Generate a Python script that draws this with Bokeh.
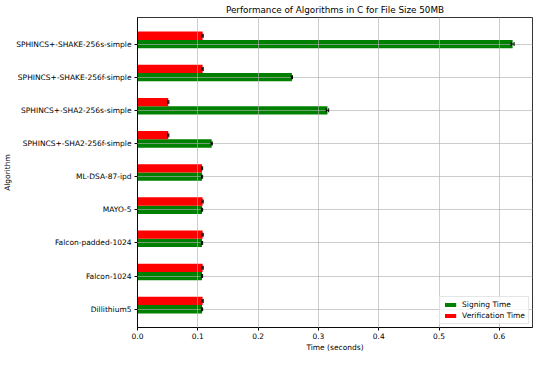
from bokeh.plotting import figure
from bokeh.models import ColumnDataSource, FixedTicker, Range1d, Legend, LegendItem
from bokeh.embed import file_html
from bokeh.resources import INLINE

algorithms = [
    "Dillithium5",
    "Falcon-1024",
    "Falcon-padded-1024",
    "MAYO-5",
    "ML-DSA-87-ipd",
    "SPHINCS+-SHA2-256f-simple",
    "SPHINCS+-SHA2-256s-simple",
    "SPHINCS+-SHAKE-256f-simple",
    "SPHINCS+-SHAKE-256s-simple",
]
signing_time = [0.107, 0.107, 0.107, 0.107, 0.107, 0.123, 0.315, 0.256, 0.622]
signing_err = [0.001, 0.001, 0.001, 0.001, 0.001, 0.001, 0.002, 0.001, 0.0025]
verification_time = [0.108, 0.108, 0.108, 0.108, 0.107, 0.051, 0.051, 0.108, 0.108]
verification_err = [0.001, 0.001, 0.001, 0.001, 0.001, 0.001, 0.001, 0.001, 0.001]
x_ticks = [0.0, 0.1, 0.2, 0.3, 0.4, 0.5, 0.6]

FONT = "DejaVu Sans"
bar_h = 0.25

idx = list(range(len(algorithms)))
sign_src = ColumnDataSource(dict(
    y=idx, right=signing_time,
    lo=[v - e for v, e in zip(signing_time, signing_err)],
    hi=[v + e for v, e in zip(signing_time, signing_err)],
))
ver_src = ColumnDataSource(dict(
    y=[i + bar_h for i in idx], right=verification_time,
    lo=[v - e for v, e in zip(verification_time, verification_err)],
    hi=[v + e for v, e in zip(verification_time, verification_err)],
))

p = figure(width=534, height=354, output_backend="svg", toolbar_location=None,
           x_range=Range1d(0, 0.655), y_range=Range1d(-0.55, 8.8),
           min_border_left=120, min_border_right=2, min_border_top=6, min_border_bottom=0)

p.title.text = "Performance of Algorithms in C for File Size 50MB"
p.title.align = "center"
p.title.text_font = FONT
p.title.text_font_size = "8.8px"
p.title.text_font_style = "normal"
p.title.text_color = "#000000"
p.title.standoff = 5

r_sign = p.hbar(y="y", left=0, right="right", height=bar_h, source=sign_src,
                fill_color="#008000", line_color=None)
r_ver = p.hbar(y="y", left=0, right="right", height=bar_h, source=ver_src,
               fill_color="#ff0000", line_color=None)

for src in (sign_src, ver_src):
    r1 = p.segment(x0="lo", x1="hi", y0="y", y1="y", source=src, line_color="black", line_width=1)
    r3 = p.rect(x="hi", y="y", width=1, height=4, width_units="screen", height_units="screen",
                source=src, fill_color="black", line_color=None)
    r4 = p.rect(x="lo", y="y", width=1, height=4, width_units="screen", height_units="screen",
                source=src, fill_color="black", line_color=None)
    for r in (r1, r3, r4):
        r.level = "overlay"

p.yaxis.ticker = FixedTicker(ticks=idx)
p.yaxis.major_label_overrides = {i: a for i, a in zip(idx, algorithms)}
p.xaxis.ticker = FixedTicker(ticks=x_ticks)
p.xaxis.major_label_overrides = {t: f"{t:.1f}" for t in x_ticks}

p.xaxis.axis_label = "Time (seconds)"
p.yaxis.axis_label = "Algorithm"
for ax in (p.xaxis, p.yaxis):
    ax.axis_label_text_font = FONT
    ax.axis_label_text_font_size = "7.5px"
    ax.axis_label_text_font_style = "normal"
    ax.axis_label_text_color = "#000000"
    ax.major_label_text_font = FONT
    ax.major_label_text_font_size = "7.5px"
    ax.major_label_text_color = "#000000"
    ax.minor_tick_line_color = None
    ax.major_tick_out = 3
    ax.major_tick_in = 0
    ax.major_tick_line_color = "#000000"
    ax.axis_line_color = "#000000"
    ax.axis_line_width = 0.8
p.xaxis.axis_label_standoff = 1
p.yaxis.axis_label_standoff = 1
p.xaxis.major_label_standoff = 2
p.yaxis.major_label_standoff = 3

p.outline_line_color = "#000000"
p.outline_line_width = 0.8

for g in (p.xgrid, p.ygrid):
    g.grid_line_color = "#b0b0b0"
    g.grid_line_width = 0.8
    g.grid_line_alpha = 0.8
    g.level = "annotation"
p.ygrid.ticker = FixedTicker(ticks=idx)
p.xgrid.ticker = FixedTicker(ticks=x_ticks)

legend = Legend(items=[
    LegendItem(label="Signing Time", renderers=[r_sign]),
    LegendItem(label="Verification Time", renderers=[r_ver]),
], location="bottom_right")
legend.label_text_font = FONT
legend.label_text_font_size = "7.5px"
legend.label_text_color = "#000000"
legend.label_height = 8
legend.glyph_height = 5
legend.glyph_width = 14
legend.spacing = 2
legend.padding = 3
legend.margin = 3
legend.label_standoff = 5
legend.border_line_color = "#cccccc"
legend.border_line_width = 0.8
legend.background_fill_alpha = 0.8
legend.level = "overlay"
p.add_layout(legend)

open("out.html", "w").write(file_html(p, INLINE))
